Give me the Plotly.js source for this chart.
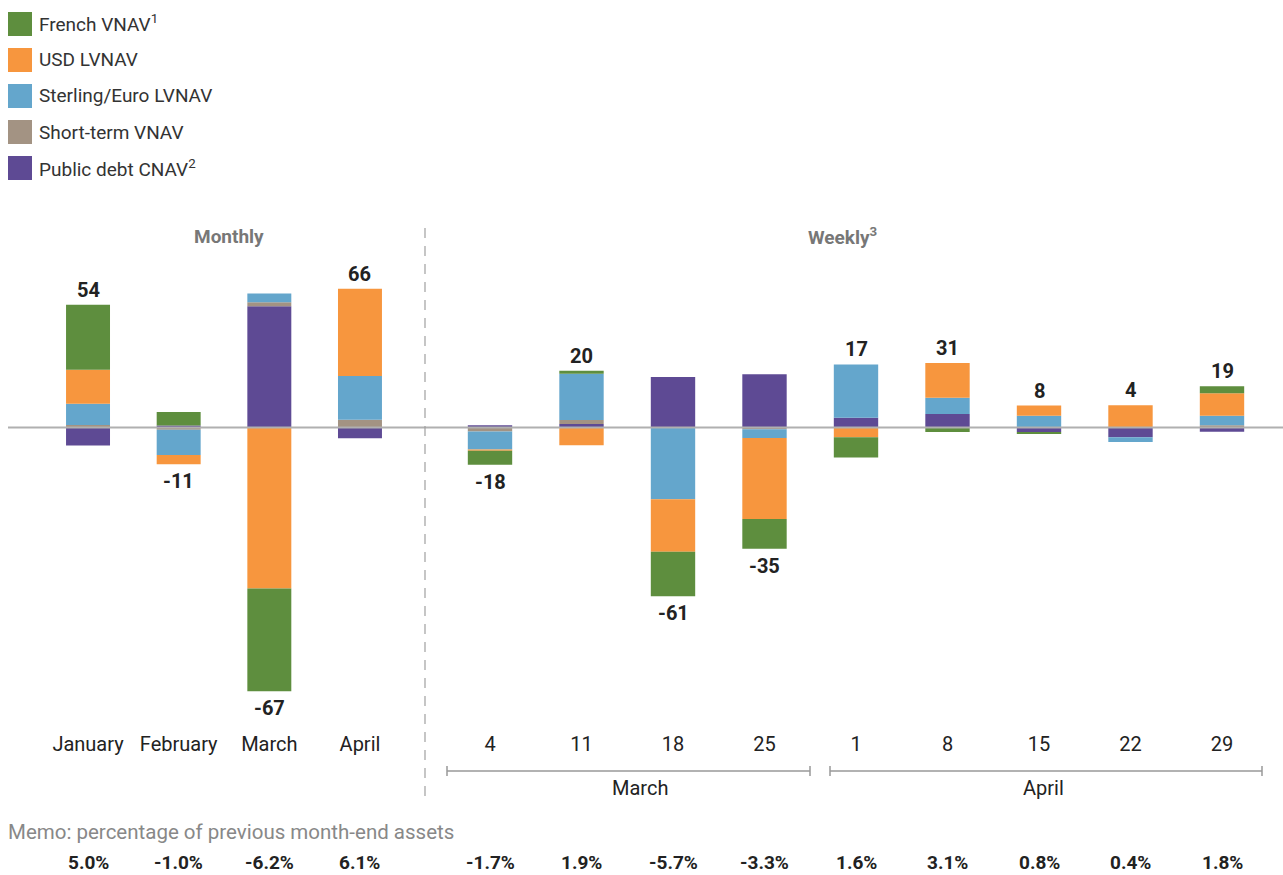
<!DOCTYPE html>
<html>
<head>
<meta charset="utf-8">
<script src="https://cdn.plot.ly/plotly-3.0.1.min.js"></script>
<style>html,body{margin:0;padding:0;background:#fff;}#chart{width:1283px;height:875px;}</style>
</head>
<body>
<div id="chart"></div>
<script>
// ---- categories ----
const months = ['January', 'February', 'March', 'April'];
const weeks = ['4', '11', '18', '25', '1', '8', '15', '22', '29'];

// ---- series values (monthly / weekly) ----
const frenchM = [33.5, 7, -53, 0];
const frenchW = [-7.2, 1.5, -23, -15.3, -10.5, -2.3, -1, 0, 3.6];
const usdM = [17.5, -4.8, -83, 45];
const usdW = [-0.7, -9.2, -27, -41.8, -5, 18, 5.3, 11.5, 11.5];
const sterM = [11, -13, 4.6, 22.5];
const sterW = [-9.3, 23.8, -37, -4.5, 27.5, 8.3, 6, -2.5, 5];
const stvM = [1.3, -1.2, 2, 4];
const stvW = [-2, 2.1, 0, -0.9, 0, 0, 0, 0, 1.1];
const pubM = [-9.3, 1, 62.5, -5.5];
const pubW = [1.2, 1.8, 26, 27.5, 5, 7, -2.3, -5, -2.2];

// ---- labels ----
const totalsM = [54, -11, -67, 66];
const totalsW = [-18, 20, -61, -35, 17, 31, 8, 4, 19];
const memoM = ['5.0%', '-1.0%', '-6.2%', '6.1%'];
const memoW = ['-1.7%', '1.9%', '-5.7%', '-3.3%', '1.6%', '3.1%', '0.8%', '0.4%', '1.8%'];
const seriesNames = ['French VNAV<sup>1</sup>', 'USD LVNAV', 'Sterling/Euro LVNAV', 'Short-term VNAV', 'Public debt CNAV<sup>2</sup>'];
const seriesColors = ['#5E8E3E', '#F7963E', '#64A6CC', '#A39383', '#5E4A94'];

const monthlySeries = [frenchM, usdM, sterM, stvM, pubM];
const weeklySeries = [frenchW, usdW, sterW, stvW, pubW];

const FONT = 'Roboto, "Open Sans", sans-serif';
const W = 1283, H = 875, MT = 240, MB = 147;
const PH = H - MT - MB;
const px = v => v / W;            // pixel x -> paper
const py = v => (H - MB - v) / PH; // pixel y -> paper

// traces: stacked from zero in order Public debt, Short-term, Sterling, USD, French
const order = [4, 3, 2, 1, 0];
const traces = [];
order.forEach(i => {
  traces.push({type: 'bar', x: months, y: monthlySeries[i], xaxis: 'x', yaxis: 'y',
    marker: {color: seriesColors[i], line: {width: 0}}, showlegend: false, hoverinfo: 'skip'});
  traces.push({type: 'bar', x: weeks, y: weeklySeries[i], xaxis: 'x2', yaxis: 'y',
    marker: {color: seriesColors[i], line: {width: 0}}, showlegend: false, hoverinfo: 'skip'});
});

const annotations = [];
const shapes = [];

function addTotals(cats, series, totals, xref) {
  cats.forEach((c, k) => {
    let pos = 0, neg = 0;
    series.forEach(s => { if (s[k] > 0) pos += s[k]; else neg += s[k]; });
    const t = totals[k];
    annotations.push({
      x: k, xref: xref, yref: 'y', y: t > 0 ? pos : neg, xanchor: 'center',
      yanchor: t > 0 ? 'bottom' : 'top', yshift: t > 0 ? 1 : -3,
      text: '<b>' + t + '</b>', showarrow: false,
      font: {family: FONT, size: 20, color: '#222'}
    });
  });
}
addTotals(months, monthlySeries, totalsM, 'x');
addTotals(weeks, weeklySeries, totalsW, 'x2');

function addMemo(cats, memo, xref) {
  cats.forEach((c, k) => {
    annotations.push({x: k, xref: xref, yref: 'paper', y: py(862), xanchor: 'center', yanchor: 'middle',
      text: '<b>' + memo[k] + '</b>', showarrow: false,
      font: {family: FONT, size: 19, color: '#222'}});
  });
}
addMemo(months, memoM, 'x');
addMemo(weeks, memoW, 'x2');

// legend (manual)
seriesNames.forEach((n, i) => {
  const cy = 24 + 36 * i;
  shapes.push({type: 'rect', xref: 'paper', yref: 'paper', x0: px(8), x1: px(32),
    y0: py(cy - 12), y1: py(cy + 12), fillcolor: seriesColors[i], line: {width: 0}});
  annotations.push({xref: 'paper', yref: 'paper', x: px(37), y: py(cy), xanchor: 'left', yanchor: 'middle',
    text: n, showarrow: false, font: {family: FONT, size: 19, color: '#333'}});
});

// headers
annotations.push({xref: 'paper', yref: 'paper', x: px(229), y: py(236), xanchor: 'center', yanchor: 'middle',
  text: '<b>Monthly</b>', showarrow: false, font: {family: FONT, size: 19, color: '#777'}});
annotations.push({xref: 'paper', yref: 'paper', x: px(842), y: py(236), xanchor: 'center', yanchor: 'middle',
  text: '<b>Weekly<sup>3</sup></b>', showarrow: false, font: {family: FONT, size: 19, color: '#777'}});

// group labels and brackets
const groups = [{t: 'March', a: 447, b: 810, c: 640}, {t: 'April', a: 830, b: 1262, c: 1043}];
groups.forEach(g => {
  shapes.push({type: 'line', xref: 'paper', yref: 'paper', x0: px(g.a), x1: px(g.b), y0: py(771), y1: py(771), line: {color: '#999', width: 1.5}});
  shapes.push({type: 'line', xref: 'paper', yref: 'paper', x0: px(g.a), x1: px(g.a), y0: py(766), y1: py(776), line: {color: '#999', width: 1.5}});
  shapes.push({type: 'line', xref: 'paper', yref: 'paper', x0: px(g.b), x1: px(g.b), y0: py(766), y1: py(776), line: {color: '#999', width: 1.5}});
  annotations.push({xref: 'paper', yref: 'paper', x: px(g.c), y: py(788), xanchor: 'center', yanchor: 'middle',
    text: g.t, showarrow: false, font: {family: FONT, size: 20, color: '#222'}});
});

// memo heading
annotations.push({xref: 'paper', yref: 'paper', x: px(6), y: py(832), xanchor: 'left', yanchor: 'middle',
  text: 'Memo: percentage of previous month-end assets', showarrow: false, font: {family: FONT, size: 20.5, color: '#888'}});

// zero line and divider
shapes.push({type: 'line', xref: 'paper', yref: 'y', x0: px(8), x1: 1, y0: 0, y1: 0, line: {color: '#B0B0B0', width: 2}, layer: 'above'});
shapes.push({type: 'line', xref: 'paper', yref: 'paper', x0: px(425), x1: px(425), y0: py(228), y1: py(800), line: {color: '#A0A0A0', width: 1.2, dash: '10px,8px'}});

const layout = {
  width: W, height: H,
  margin: {l: 0, r: 0, t: MT, b: MB},
  paper_bgcolor: '#fff', plot_bgcolor: '#fff',
  barmode: 'relative', bargap: 0.515,
  showlegend: false,
  font: {family: FONT, size: 20, color: '#222'},
  xaxis: {domain: [px(42.7), px(405.3)], type: 'category', range: [-0.5, months.length - 0.5], autorange: false,
    showgrid: false, zeroline: false, showline: false,
    ticks: '', ticklabelstandoff: 2, tickfont: {family: FONT, size: 20, color: '#222'}, fixedrange: true},
  xaxis2: {domain: [px(444.25), px(1267.75)], type: 'category', anchor: 'y', range: [-0.5, weeks.length - 0.5], autorange: false,
    showgrid: false, zeroline: false, showline: false,
    ticks: '', ticklabelstandoff: 2, tickfont: {family: FONT, size: 20, color: '#222'}, fixedrange: true},
  yaxis: {range: [-(H - MB - 427.5) / 1.94, (427.5 - MT) / 1.94], autorange: false, visible: false, showgrid: false, zeroline: false, fixedrange: true},
  shapes: shapes,
  annotations: annotations
};

Plotly.newPlot('chart', traces, layout, {displayModeBar: false, staticPlot: true});
</script>
</body>
</html>
